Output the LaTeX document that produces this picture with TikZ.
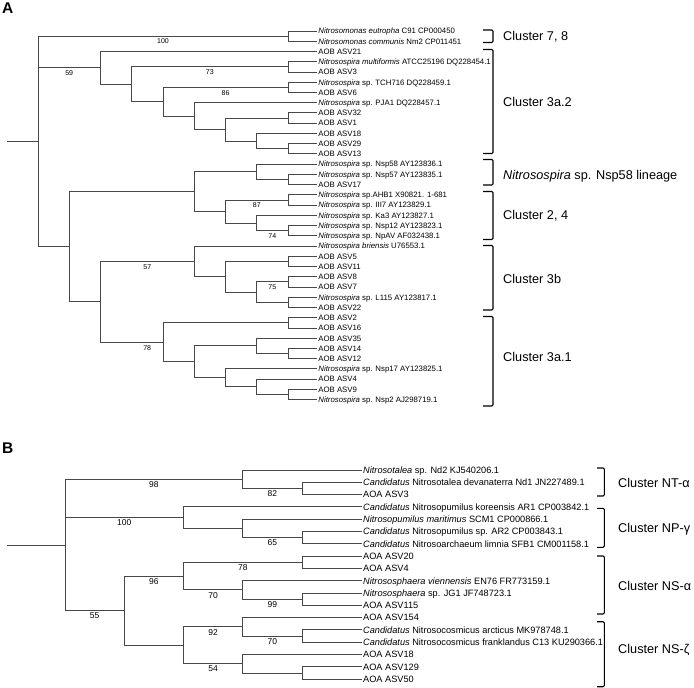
\documentclass[tikz,border=0pt]{standalone}
\usepackage{fontspec}
\setmainfont{Liberation Sans}
\usetikzlibrary{calc}
\newcommand\cl[4]{%
  \path let \p1=($(#3)!0.5!(#4)$) in (#2pt,\y1) coordinate (#1);
  \draw[br] (#1) |- (#3);
  \draw[br] (#1) |- (#4);}
\newcommand\bsn[5]{\node[#1] (#2) at ($(#3 |- #4)!0.5!(#4)+(0,5.3)$) {#5};}
\newcommand\lfA[2]{\coordinate (a#1) at (317,{31+10.24*#1}); \node[leafA] (ta#1) at (a#1) {#2};}
\newcommand\lfB[2]{\coordinate (b#1) at (361.5,{470+12.3*#1}); \node[leafB] (tb#1) at (b#1) {#2};}
\begin{document}
\begin{tikzpicture}[x=1pt,y=-1pt,
  br/.style={draw=black!72, line width=0.9pt},
  leafA/.style={anchor=west, inner sep=0pt, xshift=1.2pt, font=\fontsize{7.8}{9}\selectfont, text height=5.6pt, text depth=0pt},
  leafB/.style={anchor=west, inner sep=0pt, xshift=1.5pt, font=\fontsize{9.2}{11}\selectfont, text height=6.6pt, text depth=0pt},
  bsA/.style={inner sep=0pt, font=\fontsize{7}{8}\selectfont},
  bsB/.style={inner sep=0pt, font=\fontsize{8.5}{10}\selectfont},
  clab/.style={anchor=west, inner sep=0pt, font=\fontsize{12.7}{15}\selectfont, text height=9.1pt, text depth=0pt},
  brk/.style={draw=black, line width=1.1pt, rounded corners=1.2pt},
  panel/.style={anchor=north west, inner sep=0pt, font=\fontsize{15.5}{18}\selectfont\bfseries}]
\useasboundingbox (0,0) rectangle (694,688);
\node[panel] (pA) at (2,3) {A};
\node[panel] (pB) at (2,443) {B};
% ---------------- Tree A leaves
\lfA{0}{\textit{Nitrosomonas eutropha} C91 CP000450}
\lfA{1}{\textit{Nitrosomonas communis} Nm2 CP011451}
\lfA{2}{AOB ASV21}
\lfA{3}{\textit{Nitrosospira multiformis} ATCC25196 DQ228454.1}
\lfA{4}{AOB ASV3}
\lfA{5}{\textit{Nitrosospira} sp. TCH716 DQ228459.1}
\lfA{6}{AOB ASV6}
\lfA{7}{\textit{Nitrosospira} sp. PJA1 DQ228457.1}
\lfA{8}{AOB ASV32}
\lfA{9}{AOB ASV1}
\lfA{10}{AOB ASV18}
\lfA{11}{AOB ASV29}
\lfA{12}{AOB ASV13}
\lfA{13}{\textit{Nitrosospira} sp. Nsp58 AY123836.1}
\lfA{14}{\textit{Nitrosospira} sp. Nsp57 AY123835.1}
\lfA{15}{AOB ASV17}
\lfA{16}{\textit{Nitrosospira} sp.AHB1 X90821. 1-681}
\lfA{17}{\textit{Nitrosospira} sp. III7 AY123829.1}
\lfA{18}{\textit{Nitrosospira} sp. Ka3 AY123827.1}
\lfA{19}{\textit{Nitrosospira} sp. Nsp12 AY123823.1}
\lfA{20}{\textit{Nitrosospira} sp. NpAV AF032438.1}
\lfA{21}{\textit{Nitrosospira briensis} U76553.1}
\lfA{22}{AOB ASV5}
\lfA{23}{AOB ASV11}
\lfA{24}{AOB ASV8}
\lfA{25}{AOB ASV7}
\lfA{26}{\textit{Nitrosospira} sp. L115 AY123817.1}
\lfA{27}{AOB ASV22}
\lfA{28}{AOB ASV2}
\lfA{29}{AOB ASV16}
\lfA{30}{AOB ASV35}
\lfA{31}{AOB ASV14}
\lfA{32}{AOB ASV12}
\lfA{33}{\textit{Nitrosospira} sp. Nsp17 AY123825.1}
\lfA{34}{AOB ASV4}
\lfA{35}{AOB ASV9}
\lfA{36}{\textit{Nitrosospira} sp. Nsp2 AJ298719.1}
% ---------------- Tree A clades
\cl{nA1}{288}{a0}{a1}
\cl{nA2}{288}{a3}{a4}
\cl{nA3}{288}{a5}{a6}
\cl{nA4}{288}{a8}{a9}
\cl{nA5}{288}{a11}{a12}
\cl{nA6}{256.75}{a10}{nA5}
\cl{nA7}{225.5}{nA4}{nA6}
\cl{nA8}{194.25}{a7}{nA7}
\cl{nA9}{163}{nA3}{nA8}
\cl{nA10}{131.75}{nA2}{nA9}
\cl{nA11}{100.5}{a2}{nA10}
\cl{nA12}{288}{a14}{a15}
\cl{nA13}{256.75}{a13}{nA12}
\cl{nA14}{288}{a16}{a17}
\cl{nA15}{288}{a19}{a20}
\cl{nA16}{256.75}{a18}{nA15}
\cl{nA17}{225.5}{nA14}{nA16}
\cl{nA18}{194.25}{nA13}{nA17}
\cl{nA19}{288}{a22}{a23}
\cl{nA20}{288}{a24}{a25}
\cl{nA21}{288}{a26}{a27}
\cl{nA22}{256.75}{nA20}{nA21}
\cl{nA23}{225.5}{nA19}{nA22}
\cl{nA24}{194.25}{a21}{nA23}
\cl{nA25}{288}{a28}{a29}
\cl{nA26}{288}{a31}{a32}
\cl{nA27}{256.75}{a30}{nA26}
\cl{nA28}{288}{a35}{a36}
\cl{nA29}{256.75}{a34}{nA28}
\cl{nA30}{225.5}{a33}{nA29}
\cl{nA31}{194.25}{nA27}{nA30}
\cl{nA32}{163}{nA25}{nA31}
\cl{nA33}{100.5}{nA24}{nA32}
\cl{nA34}{69.25}{nA18}{nA33}
\path let \p1=($(nA1)!0.5!(nA34)$) in (38pt,\y1) coordinate (rootA);
\coordinate (stubA) at ($(rootA)+(-31,0)$);
\draw[br] (rootA) |- (nA1);
\draw[br] (rootA) |- (nA11);
\draw[br] (rootA) |- (nA34);
\draw[br] (stubA) -- (rootA);
% bootstrap A
\bsn{bsA}{sA1}{rootA}{nA1}{100}
\bsn{bsA}{sA2}{rootA}{nA11}{59}
\bsn{bsA}{sA3}{nA10}{nA2}{73}
\bsn{bsA}{sA4}{nA9}{nA3}{86}
\bsn{bsA}{sA5}{nA17}{nA14}{87}
\bsn{bsA}{sA6}{nA16}{nA15}{74}
\bsn{bsA}{sA7}{nA22}{nA20}{75}
\bsn{bsA}{sA8}{nA33}{nA24}{57}
\bsn{bsA,xshift=15.5pt}{sA9}{nA33}{nA32}{78}
% brackets A
\draw[brk] (483,30) -- (493,30) -- (493,42.5) -- (483,42.5);
\node[clab] (cA1) at (503,35.5) {Cluster 7, 8};
\draw[brk] (483,49.5) -- (493,49.5) -- (493,153.5) -- (483,153.5);
\node[clab] (cA2) at (503,101.5) {Cluster 3a.2};
\draw[brk] (483,159.5) -- (493,159.5) -- (493,185) -- (483,185);
\node[clab] (cA3) at (503,174.5) {\textit{Nitrosospira} sp. Nsp58 lineage};
\draw[brk] (483,191.5) -- (493,191.5) -- (493,239.5) -- (483,239.5);
\node[clab] (cA4) at (503,215) {Cluster 2, 4};
\draw[brk] (483,245.5) -- (493,245.5) -- (493,310) -- (483,310);
\node[clab] (cA5) at (503,278.5) {Cluster 3b};
\draw[brk] (483,316.5) -- (493,316.5) -- (493,406) -- (483,406);
\node[clab] (cA6) at (503,357) {Cluster 3a.1};
% ---------------- Tree B leaves
\lfB{0}{\textit{Nitrosotalea} sp. Nd2 KJ540206.1}
\lfB{1}{\textit{Candidatus} Nitrosotalea devanaterra Nd1 JN227489.1}
\lfB{2}{AOA ASV3}
\lfB{3}{\textit{Candidatus} Nitrosopumilus koreensis AR1 CP003842.1}
\lfB{4}{\textit{Nitrosopumilus maritimus} SCM1 CP000866.1}
\lfB{5}{\textit{Candidatus} Nitrosopumilus sp. AR2 CP003843.1}
\lfB{6}{\textit{Candidatus} Nitrosoarchaeum limnia SFB1 CM001158.1}
\lfB{7}{AOA ASV20}
\lfB{8}{AOA ASV4}
\lfB{9}{\textit{Nitrososphaera viennensis} EN76 FR773159.1}
\lfB{10}{\textit{Nitrososphaera} sp. JG1 JF748723.1}
\lfB{11}{AOA ASV115}
\lfB{12}{AOA ASV154}
\lfB{13}{\textit{Candidatus} Nitrosocosmicus arcticus MK978748.1}
\lfB{14}{\textit{Candidatus} Nitrosocosmicus franklandus C13 KU290366.1}
\lfB{15}{AOA ASV18}
\lfB{16}{AOA ASV129}
\lfB{17}{AOA ASV50}
% ---------------- Tree B clades
\cl{nB1}{302}{b1}{b2}
\cl{nB2}{242.75}{b0}{nB1}
\cl{nB3}{302}{b5}{b6}
\cl{nB4}{242.75}{b4}{nB3}
\cl{nB5}{183.5}{b3}{nB4}
\cl{nB6}{302}{b7}{b8}
\cl{nB7}{302}{b10}{b11}
\cl{nB8}{242.75}{b9}{nB7}
\cl{nB9}{183.5}{nB6}{nB8}
\cl{nB10}{302}{b13}{b14}
\cl{nB11}{242.75}{b12}{nB10}
\cl{nB12}{302}{b16}{b17}
\cl{nB14}{242.75}{b15}{nB12}
\cl{nB15}{183.5}{nB11}{nB14}
\cl{nB13}{124.25}{nB9}{nB15}
\path let \p1=($(nB2)!0.5!(nB13)$) in (65pt,\y1) coordinate (rootB);
\coordinate (stubB) at ($(rootB)+(-58,0)$);
\draw[br] (rootB) |- (nB2);
\draw[br] (rootB) |- (nB5);
\draw[br] (rootB) |- (nB13);
\draw[br] (stubB) -- (rootB);
% bootstrap B
\bsn{bsB}{sB1}{rootB}{nB2}{98}
\bsn{bsB}{sB2}{nB2}{nB1}{82}
\bsn{bsB}{sB3}{rootB}{nB5}{100}
\bsn{bsB}{sB4}{nB4}{nB3}{65}
\bsn{bsB}{sB5}{rootB}{nB13}{55}
\bsn{bsB}{sB6}{nB13}{nB9}{96}
\bsn{bsB}{sB7}{nB9}{nB6}{78}
\bsn{bsB}{sB8}{nB9}{nB8}{70}
\bsn{bsB}{sB9}{nB8}{nB7}{99}
\bsn{bsB}{sB10}{nB15}{nB11}{92}
\bsn{bsB}{sB11}{nB11}{nB10}{70}
\bsn{bsB}{sB12}{nB15}{nB14}{54}
% brackets B
\draw[brk] (597,468) -- (604.3,468) -- (604.3,496) -- (597,496);
\node[clab] (cB1) at (618,483) {Cluster NT-α};
\draw[brk] (597,508.3) -- (604.3,508.3) -- (604.3,547.3) -- (597,547.3);
\node[clab] (cB2) at (618,527.7) {Cluster NP-γ};
\draw[brk] (597,556) -- (604.3,556) -- (604.3,614) -- (597,614);
\node[clab] (cB3) at (618,586) {Cluster NS-α};
\draw[brk] (597,621.7) -- (604.3,621.7) -- (604.3,686.7) -- (597,686.7);
\node[clab] (cB4) at (618,649) {Cluster NS-ζ};
\end{tikzpicture}
\end{document}
